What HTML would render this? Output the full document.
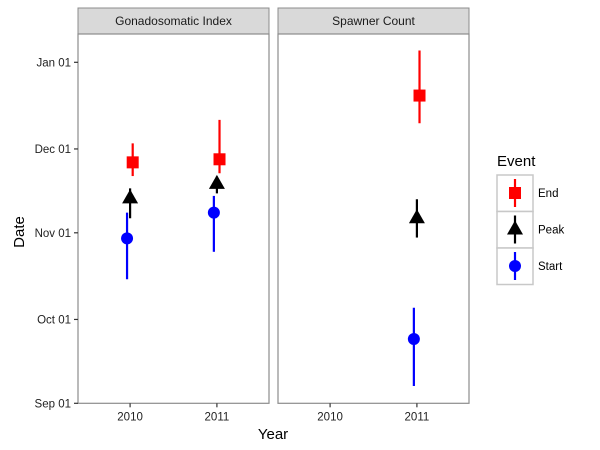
<!DOCTYPE html>
<html><head><meta charset="utf-8"><style>
body{margin:0;background:#fff;}
svg{display:block;font-family:"Liberation Sans",Arial,sans-serif;}
</style></head><body>
<svg id="chart" width="600" height="450" xmlns="http://www.w3.org/2000/svg"></svg>
<script>
const panels = ["Gonadosomatic Index", "Spawner Count"];
const years = ["2010", "2011"];
const events = ["End", "Peak", "Start"];
const colors = {End: "#ff0000", Peak: "#000000", Start: "#0000ff"};
// day offsets from Sep 01: [panel, year, value, low, high]
const gsiEnd = [[0,"2010",86.2,81.3,93.0],[0,"2011",87.3,82.3,101.4]];
const gsiPeak = [[0,"2010",73.3,66.2,76.9],[0,"2011",78.5,75.1,81.1]];
const gsiStart = [[0,"2010",59.0,44.4,68.2],[0,"2011",68.2,54.2,74.2]];
const spEnd = [[1,"2011",110.1,100.2,126.2]];
const spPeak = [[1,"2011",66.2,59.3,73.0]];
const spStart = [[1,"2011",23.0,6.2,34.2]];
const yTickLabels = ["Sep 01","Oct 01","Nov 01","Dec 01","Jan 01"];
const yTickDays = [0,30,61,91,122];

const svg = document.getElementById('chart');
const NS = "http://www.w3.org/2000/svg";
function mk(tag, attrs, parent, text){
  const e = document.createElementNS(NS, tag);
  for (const k in attrs) e.setAttribute(k, attrs[k]);
  if (text !== undefined) e.textContent = text;
  (parent||svg).appendChild(e);
  return e;
}
const panelX = [78, 278], panelW = 191, plotTop = 34, plotBottom = 403.3;
function yScale(d){ return plotBottom - d * (plotBottom - 62.3) / 122; }
function xScale(p, yr, off){ const i = years.indexOf(yr); return panelX[p] + (i + 1 + off - 0.4) * panelW / 2.2; }
const dodge = {End: 0.03, Peak: 0, Start: -0.035};

panels.forEach((name, p) => {
  const strip = mk('rect', {x: panelX[p], y: 8, width: panelW, height: 26, fill: '#d9d9d9', stroke: '#8c8c8c', 'stroke-width': 1});
  
  
  const st = mk('text', {x: panelX[p] + panelW/2, y: 25, 'text-anchor': 'middle', 'font-size': 12, fill: '#1a1a1a'}, svg, name);
  
  
  const bg = mk('rect', {x: panelX[p], y: plotTop, width: panelW, height: plotBottom - plotTop, fill: '#fff', stroke: '#8c8c8c', 'stroke-width': 1.2});
  
  
  years.forEach(yr => {
    const x = xScale(p, yr, 0);
    const t = mk('line', {x1: x, x2: x, y1: plotBottom, y2: plotBottom + 4, stroke: '#333', 'stroke-width': 1.2});
    
    
    const l = mk('text', {x: x, y: plotBottom + 17, 'text-anchor': 'middle', 'font-size': 11.5, fill: '#222'}, svg, yr);
    
    
  });
});
yTickDays.forEach((d, i) => {
  const y = yScale(d);
  const t = mk('line', {x1: 74, x2: 78, y1: y, y2: y, stroke: '#333', 'stroke-width': 1.2});
  
  
  const l = mk('text', {x: 71, y: y + 4, 'text-anchor': 'end', 'font-size': 11.5, fill: '#222'}, svg, yTickLabels[i]);
  
  
});
const yt = mk('text', {x: 0, y: 0, transform: 'translate(24,232) rotate(-90)', 'text-anchor': 'middle', 'font-size': 15}, svg, 'Date');


const xt = mk('text', {x: 273, y: 439, 'text-anchor': 'middle', 'font-size': 15}, svg, 'Year');



function shape(ev, cx, cy, parent){
  const c = colors[ev];
  let s;
  if (ev === 'End') s = mk('rect', {x: cx - 6, y: cy - 6, width: 12, height: 12, fill: c}, parent);
  else if (ev === 'Peak') s = mk('polygon', {points: `${cx},${cy-9} ${cx-8},${cy+5} ${cx+8},${cy+5}`, fill: c}, parent);
  else s = mk('circle', {cx: cx, cy: cy, r: 6, fill: c}, parent);
  return s;
}
function drawSeries(arr, ev){
  arr.forEach(r => {
    const [p, yr, v, lo, hi] = r;
    const x = xScale(p, yr, dodge[ev]);
    const g = mk('g', {});
    
    
    mk('line', {x1: x, x2: x, y1: yScale(lo), y2: yScale(hi), stroke: colors[ev], 'stroke-width': 2.2}, g);
    shape(ev, x, yScale(v), g);
  });
}
drawSeries(gsiEnd, 'End'); drawSeries(gsiPeak, 'Peak'); drawSeries(gsiStart, 'Start');
drawSeries(spEnd, 'End'); drawSeries(spPeak, 'Peak'); drawSeries(spStart, 'Start');

const lt = mk('text', {x: 497, y: 166, 'font-size': 15}, svg, 'Event');


events.forEach((ev, i) => {
  const y0 = 175 + i * 36.5;
  const g = mk('g', {});
  
  
  mk('rect', {x: 497, y: y0, width: 36, height: 36.5, fill: '#fff', stroke: '#c8c8c8', 'stroke-width': 1.5}, g);
  mk('line', {x1: 515, x2: 515, y1: y0 + 4, y2: y0 + 32, stroke: colors[ev], 'stroke-width': 2.2}, g);
  shape(ev, 515, y0 + 18, g);
  mk('text', {x: 538, y: y0 + 22, 'font-size': 11.5}, g, ev);
});
</script>
</body></html>
